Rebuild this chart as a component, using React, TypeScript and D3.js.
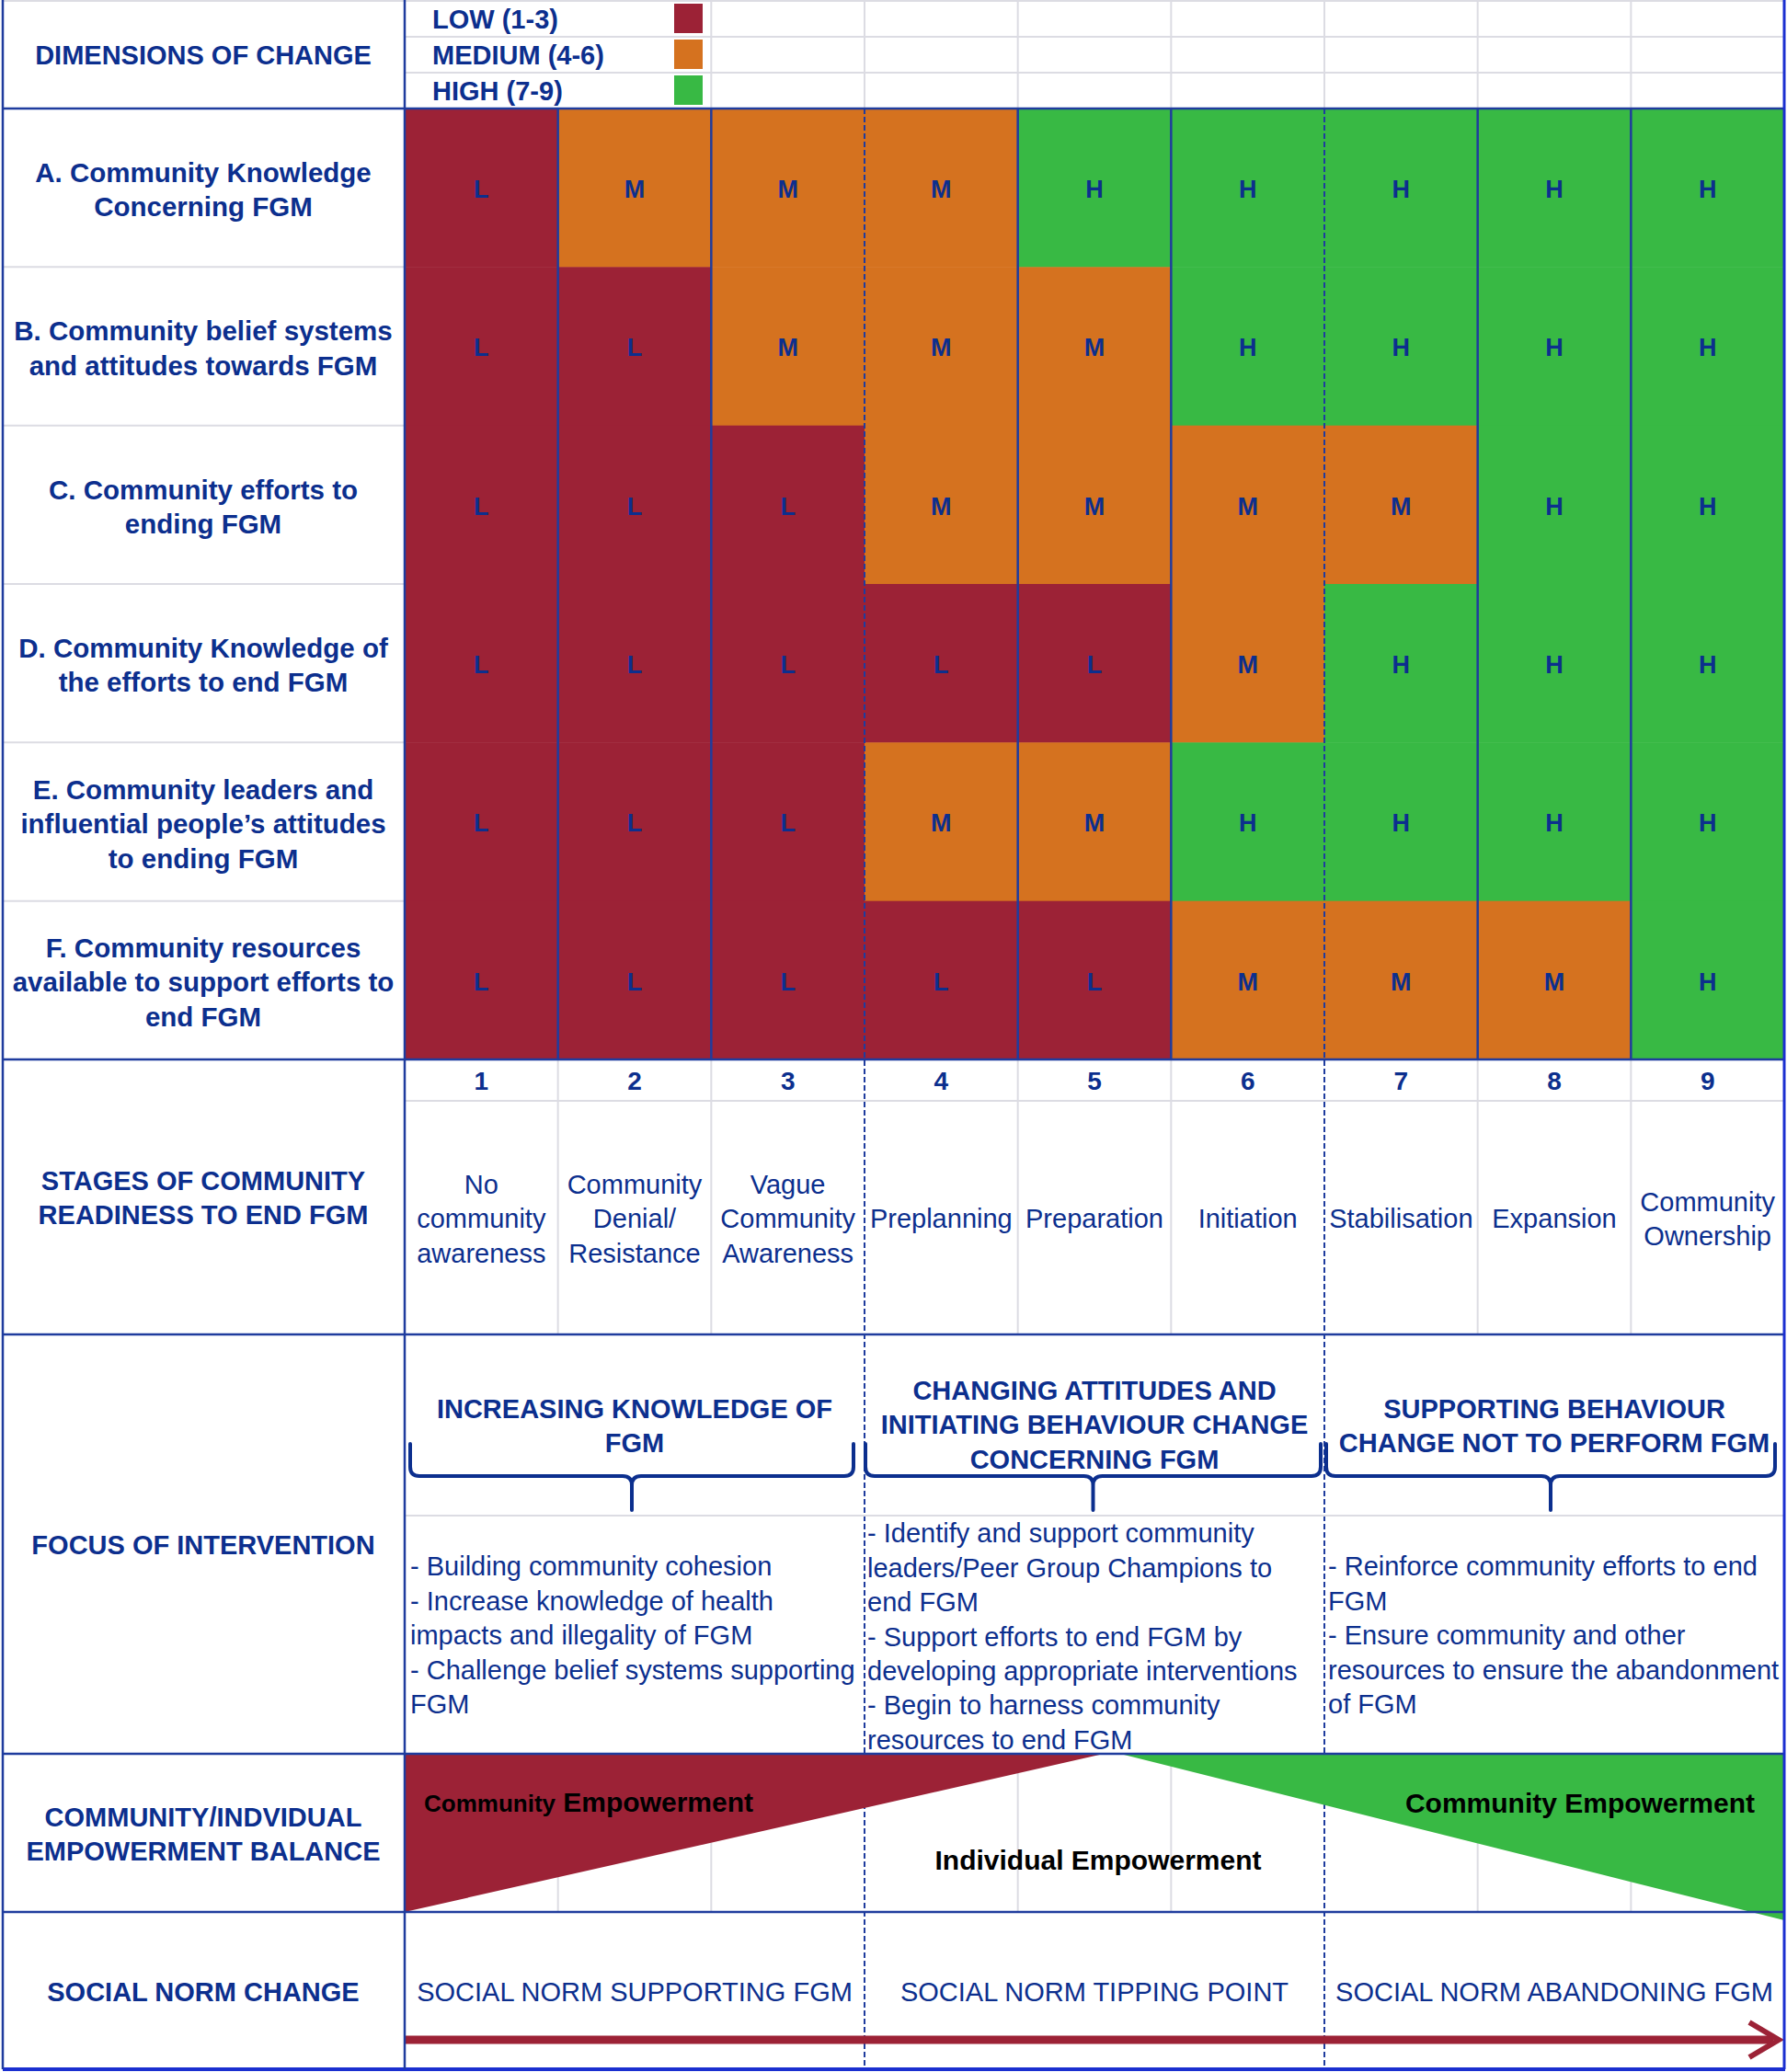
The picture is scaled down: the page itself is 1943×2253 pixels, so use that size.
import React from "react";
import * as d3 from "d3";

// ---------- data ----------
const stageNumbers = ["1", "2", "3", "4", "5", "6", "7", "8", "9"];
const stageNames: string[][] = [
  ["No", "community", "awareness"],
  ["Community", "Denial/", "Resistance"],
  ["Vague", "Community", "Awareness"],
  ["Preplanning"],
  ["Preparation"],
  ["Initiation"],
  ["Stabilisation"],
  ["Expansion"],
  ["Community", "Ownership"],
];
const dimensionLabels: string[][] = [
  ["A. Community Knowledge", "Concerning FGM"],
  ["B. Community belief systems", "and attitudes towards FGM"],
  ["C. Community efforts to", "ending FGM"],
  ["D. Community Knowledge of", "the efforts to end FGM"],
  ["E. Community leaders and", "influential people\u2019s attitudes", "to ending FGM"],
  ["F. Community resources", "available to support efforts to", "end FGM"],
];
const rowA = ["L", "M", "M", "M", "H", "H", "H", "H", "H"];
const rowB = ["L", "L", "M", "M", "M", "H", "H", "H", "H"];
const rowC = ["L", "L", "L", "M", "M", "M", "M", "H", "H"];
const rowD = ["L", "L", "L", "L", "L", "M", "H", "H", "H"];
const rowE = ["L", "L", "L", "M", "M", "H", "H", "H", "H"];
const rowF = ["L", "L", "L", "L", "L", "M", "M", "M", "H"];
const levelRows = [rowA, rowB, rowC, rowD, rowE, rowF];

const legendLevels = ["L", "M", "H"];
const legendLabels = ["LOW (1-3)", "MEDIUM (4-6)", "HIGH (7-9)"];

const focusHeadings: string[][] = [
  ["INCREASING KNOWLEDGE OF", "FGM"],
  ["CHANGING ATTITUDES AND", "INITIATING BEHAVIOUR CHANGE", "CONCERNING FGM"],
  ["SUPPORTING BEHAVIOUR", "CHANGE NOT TO PERFORM FGM"],
];
const focusItems: string[][] = [
  [
    "- Building community cohesion",
    "- Increase knowledge of health",
    "impacts and illegality of FGM",
    "- Challenge belief systems supporting",
    "FGM",
  ],
  [
    "- Identify and support community",
    "leaders/Peer Group Champions to",
    "end FGM",
    "- Support efforts to end FGM by",
    "developing appropriate interventions",
    "- Begin to harness community",
    "resources to end FGM",
  ],
  [
    "- Reinforce community efforts to end",
    "FGM",
    "- Ensure community and other",
    "resources to ensure the abandonment",
    "of FGM",
  ],
];
const socialNormLabels = [
  "SOCIAL NORM SUPPORTING FGM",
  "SOCIAL NORM TIPPING POINT",
  "SOCIAL NORM ABANDONING FGM",
];
const phaseGroups = [0, 1, 2]; // each spans 3 stages

// ---------- styles ----------
const W = 1943;
const H = 2253;
const FONT = "'Liberation Sans', Arial, Helvetica, sans-serif";
const BLUE_TXT = "#0c2f8e";
const BLUE_LINE = "#1f3c9e";
const GRAY_LINE = "#dcdce3";
const levelColor = d3
  .scaleOrdinal<string, string>()
  .domain(["L", "M", "H"])
  .range(["#9c2236", "#d5721f", "#38b944"]);

export default function App() {
  const left = 3;
  const x0 = 440;
  const x1 = 1940;
  const x = d3.scaleBand<number>().domain(d3.range(9)).range([x0, x1]);
  const cw = x.bandwidth();
  const phase = d3.scaleBand<number>().domain(phaseGroups).range([x0, x1]);

  const headerBottom = 118;
  const gridBottom = 1152;
  const y = d3.scaleBand<number>().domain(d3.range(6)).range([headerBottom, gridBottom]);
  const rh = y.bandwidth();
  const legendY = d3.scaleBand<number>().domain(d3.range(3)).range([1, headerBottom]);

  const numBottom = 1197;
  const stagesBottom = 1451;
  const focusMid = 1648;
  const focusBottom = 1907;
  const empBottom = 2079;
  const socialBottom = 2250;

  const lh = 37.4;
  const labelX = 221;

  const multiline = (lines: string[], cx: number, cy: number, props: any, anchor = "middle") => (
    <text x={cx} textAnchor={anchor} {...props}>
      {lines.map((ln, i) => (
        <tspan key={i} x={cx} y={cy + (i - (lines.length - 1) / 2) * lh} dy="0.36em">
          {ln}
        </tspan>
      ))}
    </text>
  );

  const boldBlue = { fontFamily: FONT, fontWeight: 700, fontSize: 29, fill: BLUE_TXT };
  const normBlue = { fontFamily: FONT, fontWeight: 400, fontSize: 29, fill: BLUE_TXT };

  const boundaries = d3.range(1, 9).map((i) => x(i)!);
  const dashed = (i: number) => i === 3 || i === 6;

  const braceY0 = 1570;
  const braceY1 = 1605;
  const braceY2 = 1642;
  const braceExt = [
    [446, 928],
    [941, 1436],
    [1442, 1930],
  ];
  const bracePath = (a: number, b: number) => {
    const c = (a + b) / 2;
    const r = 10;
    return (
      `M${a},${braceY0} L${a},${braceY1 - r} Q${a},${braceY1} ${a + r},${braceY1} L${c - r},${braceY1} Q${c},${braceY1} ${c},${braceY1 + r} L${c},${braceY2}` +
      ` M${b},${braceY0} L${b},${braceY1 - r} Q${b},${braceY1} ${b - r},${braceY1} L${c + r},${braceY1} Q${c},${braceY1} ${c},${braceY1 + r}`
    );
  };

  const redTri = d3.line()([
    [x0, focusBottom],
    [1200, focusBottom],
    [x0, empBottom],
  ]) + "Z";
  const greenTri = d3.line()([
    [1218, focusBottom],
    [x1, focusBottom],
    [x1, 2088],
  ]) + "Z";

  const dashLine = (i: number, ya: number, yb: number, key: string) => (
    <line key={key} x1={x(i)!} x2={x(i)!} y1={ya} y2={yb} stroke={BLUE_LINE} strokeWidth={2} strokeDasharray="6,3" />
  );

  return (
    <svg
      width={W}
      height={H}
      style={{ position: "absolute", left: 0, top: 0, background: "#fff" }}
      xmlns="http://www.w3.org/2000/svg"
    >
      <rect x={0} y={0} width={W} height={H} fill="#fff" />

      {/* legend area gray grid */}
      {[legendY(1)!, legendY(2)!].map((yy, i) => (
        <line key={"lh" + i} x1={x0} x2={x1} y1={yy} y2={yy} stroke={GRAY_LINE} strokeWidth={2} />
      ))}
      <line x1={left} x2={x1} y1={1} y2={1} stroke={GRAY_LINE} strokeWidth={2} />
      {boundaries.slice(1).map((bx, i) => (
        <line key={"lv" + i} x1={bx} x2={bx} y1={0} y2={headerBottom} stroke={GRAY_LINE} strokeWidth={2} />
      ))}
      {legendLevels.map((lv, i) => (
        <g key={"leg" + lv}>
          <rect x={733} y={legendY(i)! + 3} width={31} height={legendY.bandwidth() - 7} fill={levelColor(lv)} />
          <text x={470} y={legendY(i)! + legendY.bandwidth() / 2} dy="0.36em" {...boldBlue}>
            {legendLabels[i]}
          </text>
        </g>
      ))}

      {/* label column gray separators */}
      {d3.range(1, 6).map((i) => (
        <line key={"rs" + i} x1={left} x2={x0} y1={y(i)!} y2={y(i)!} stroke={GRAY_LINE} strokeWidth={2} />
      ))}

      {/* grid cells */}
      {levelRows.map((row, r) =>
        row.map((lv, c) => (
          <rect key={`c${r}-${c}`} x={x(c)!} y={y(r)!} width={cw + 0.5} height={rh + 0.5} fill={levelColor(lv)} />
        ))
      )}
      {levelRows.map((row, r) =>
        row.map((lv, c) => (
          <text
            key={`t${r}-${c}`}
            x={x(c)! + cw / 2}
            y={y(r)! + rh / 2 + 1}
            dy="0.36em"
            textAnchor="middle"
            fontFamily={FONT}
            fontWeight={700}
            fontSize={27}
            fill={BLUE_TXT}
          >
            {lv}
          </text>
        ))
      )}
      {boundaries.map((bx, i) =>
        dashed(i + 1) ? null : (
          <line key={"gv" + i} x1={bx} x2={bx} y1={headerBottom} y2={gridBottom} stroke={BLUE_LINE} strokeWidth={2.5} />
        )
      )}
      {[3, 6].map((i) => dashLine(i, headerBottom, focusBottom, "dg" + i))}

      {/* number & stage rows */}
      <line x1={x0} x2={x1} y1={numBottom} y2={numBottom} stroke={GRAY_LINE} strokeWidth={2} />
      {boundaries.map((bx, i) =>
        dashed(i + 1) ? null : (
          <line key={"sv" + i} x1={bx} x2={bx} y1={gridBottom} y2={stagesBottom} stroke={GRAY_LINE} strokeWidth={2} />
        )
      )}
      {stageNumbers.map((n, i) => (
        <text
          key={"n" + i}
          x={x(i)! + cw / 2}
          y={(gridBottom + numBottom) / 2}
          dy="0.36em"
          textAnchor="middle"
          {...boldBlue}
          fontSize={28}
        >
          {n}
        </text>
      ))}
      {stageNames.map((lines, i) => (
        <g key={"sn" + i}>{multiline(lines, x(i)! + cw / 2, 1325, normBlue)}</g>
      ))}

      {/* focus of intervention */}
      <line x1={x0} x2={x1} y1={focusMid} y2={focusMid} stroke={GRAY_LINE} strokeWidth={2} />
      {phaseGroups.map((g) => {
        const cx = phase(g)! + phase.bandwidth() / 2;
        const lines = focusHeadings[g];
        const cy = lines.length === 3 ? 1549 : 1550;
        return <g key={"fh" + g}>{multiline(lines, cx, cy, boldBlue)}</g>;
      })}
      {phaseGroups.map((g) => (
        <path key={"br" + g} d={bracePath(braceExt[g][0], braceExt[g][1])} fill="none" stroke={BLUE_TXT} strokeWidth={4} strokeLinejoin="round" strokeLinecap="round" />
      ))}
      {phaseGroups.map((g) => {
        const lines = focusItems[g];
        const tx = phase(g)! + (g === 0 ? 6 : g === 1 ? 3 : 4);
        const top = g === 1 ? 1667 : 1703;
        return (
          <text key={"fi" + g} {...normBlue}>
            {lines.map((ln, i) => (
              <tspan key={i} x={tx} y={top + i * lh} dy="0.36em">
                {ln}
              </tspan>
            ))}
          </text>
        );
      })}

      {/* empowerment balance */}
      {boundaries.map((bx, i) =>
        dashed(i + 1) ? null : (
          <line key={"ev" + i} x1={bx} x2={bx} y1={focusBottom} y2={empBottom} stroke={GRAY_LINE} strokeWidth={2} />
        )
      )}
      {[3, 6].map((i) => dashLine(i, focusBottom, socialBottom, "de" + i))}
      <path d={redTri} fill={levelColor("L")} />
      <path d={greenTri} fill={levelColor("H")} />
      <text x={461} y={1959} dy="0.36em" fontFamily={FONT} fontWeight={700} fontSize={30} fill="#000">
        <tspan fontSize={26}>Community</tspan> Empowerment
      </text>
      <text x={1908} y={1960} dy="0.36em" textAnchor="end" fontFamily={FONT} fontWeight={700} fontSize={30} fill="#000">
        Community Empowerment
      </text>
      <text x={1194} y={2022} dy="0.36em" textAnchor="middle" fontFamily={FONT} fontWeight={700} fontSize={30} fill="#000">
        Individual Empowerment
      </text>

      {/* social norm change */}
      {phaseGroups.map((g) => (
        <text
          key={"sn" + g}
          x={phase(g)! + phase.bandwidth() / 2}
          y={2166}
          dy="0.36em"
          textAnchor="middle"
          {...normBlue}
        >
          {socialNormLabels[g]}
        </text>
      ))}
      <line x1={x0} x2={1928} y1={2218} y2={2218} stroke={levelColor("L")} strokeWidth={9} />
      <polyline points="1902,2199 1934,2218 1902,2237" fill="none" stroke={levelColor("L")} strokeWidth={6} strokeLinejoin="miter" />

      {/* blue section borders */}
      {[headerBottom, gridBottom, stagesBottom, focusBottom, empBottom].map((yy, i) => (
        <line key={"hb" + i} x1={left} x2={x1} y1={yy} y2={yy} stroke={BLUE_LINE} strokeWidth={2.5} />
      ))}
      <line x1={left} x2={x1 + 1} y1={socialBottom} y2={socialBottom} stroke="#1a2fd0" strokeWidth={4} />
      <line x1={left} x2={left} y1={0} y2={socialBottom} stroke={BLUE_LINE} strokeWidth={2.5} />
      <line x1={x0} x2={x0} y1={0} y2={socialBottom} stroke={BLUE_LINE} strokeWidth={2.5} />
      <line x1={x1} x2={x1} y1={0} y2={socialBottom} stroke="#1a2fd0" strokeWidth={3} />

      {/* left column labels */}
      <text x={labelX} y={60} dy="0.36em" textAnchor="middle" {...boldBlue}>
        DIMENSIONS OF CHANGE
      </text>
      {dimensionLabels.map((lines, r) => (
        <g key={"dlb" + r}>{multiline(lines, labelX, y(r)! + rh / 2 + 2, { ...boldBlue, fontSize: 29.5 })}</g>
      ))}
      {multiline(["STAGES OF COMMUNITY", "READINESS TO END FGM"], labelX, 1302, boldBlue)}
      {multiline(["FOCUS OF INTERVENTION"], labelX, 1680, boldBlue)}
      {multiline(["COMMUNITY/INDVIDUAL", "EMPOWERMENT BALANCE"], labelX, 1994, boldBlue)}
      {multiline(["SOCIAL NORM CHANGE"], labelX, 2166, boldBlue)}
    </svg>
  );
}
